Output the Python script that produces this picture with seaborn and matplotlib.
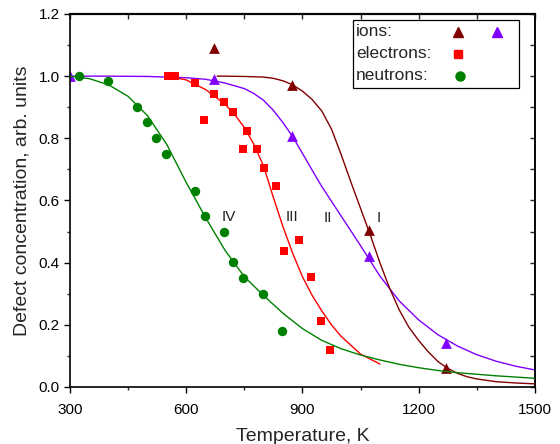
import numpy as np
import pandas as pd
import matplotlib
matplotlib.use("Agg")
import matplotlib.pyplot as plt
import seaborn as sns
from matplotlib.patches import Rectangle
from matplotlib.ticker import MultipleLocator

# ---- measured points ----
ionsI_T = [672, 873, 1072, 1270]
ionsI_y = [1.09, 0.973, 0.505, 0.06]
ionsII_T = [300, 672, 874, 1072, 1270]
ionsII_y = [1.00, 0.99, 0.808, 0.422, 0.142]
elec_T = [553, 571, 623, 647, 672, 697, 721, 746, 757, 782, 802, 832, 852, 892, 922, 947, 972]
elec_y = [1.00, 1.00, 0.977, 0.86, 0.942, 0.917, 0.884, 0.766, 0.825, 0.766, 0.706, 0.648, 0.436, 0.472, 0.355, 0.212, 0.118]
neut_T = [324, 399, 472, 498, 523, 548, 623, 648, 697, 722, 747, 797, 847]
neut_y = [1.00, 0.984, 0.902, 0.853, 0.80, 0.751, 0.632, 0.551, 0.50, 0.401, 0.35, 0.30, 0.18]

# ---- fitted curves ----
fitI_T = [680, 700, 750, 800, 825, 850, 875, 900, 925, 950, 975, 1000, 1025, 1050, 1075, 1100, 1125,
          1150, 1175, 1200, 1225, 1250, 1275, 1300, 1325, 1350, 1400, 1450, 1500]
fitI_y = [1.0, 1.0, 0.999, 0.997, 0.993, 0.985, 0.972, 0.952, 0.925, 0.888, 0.83, 0.748, 0.66, 0.575, 0.49,
          0.40, 0.318, 0.248, 0.192, 0.15, 0.113, 0.082, 0.06, 0.044, 0.033, 0.026, 0.017, 0.013, 0.01]
fitII_T = [300, 400, 500, 600, 650, 700, 750, 775, 800, 825, 850, 875, 900, 925, 950, 1000, 1050, 1100,
           1150, 1200, 1250, 1300, 1350, 1400, 1450, 1500]
fitII_y = [1.0, 1.0, 0.999, 0.995, 0.99, 0.978, 0.96, 0.944, 0.922, 0.89, 0.85, 0.805, 0.752, 0.698,
           0.645, 0.55, 0.455, 0.357, 0.277, 0.216, 0.168, 0.132, 0.104, 0.083, 0.067, 0.055]
fitIII_T = [550, 600, 650, 700, 725, 750, 775, 800, 825, 850, 875, 900, 925, 950, 975,
            1000, 1050, 1100]
fitIII_y = [1.0, 0.988, 0.957, 0.91, 0.877, 0.835, 0.78, 0.71, 0.61, 0.515, 0.43, 0.355, 0.295,
            0.245, 0.2, 0.163, 0.106, 0.074]
fitIV_T = [300, 350, 400, 450, 500, 550, 600, 650, 700, 750, 800, 850, 900, 950, 1000,
           1050, 1100, 1150, 1200, 1250, 1300, 1400, 1500]
fitIV_y = [1.0, 0.992, 0.972, 0.935, 0.873, 0.78, 0.658, 0.545, 0.44, 0.355, 0.294, 0.237, 0.188, 0.15, 0.123,
           0.103, 0.087, 0.073, 0.062, 0.053, 0.046, 0.036, 0.028]

curve_labels = ["I", "II", "III", "IV"]
legend_labels = ["ions:", "electrons:", "neutrons:"]

MAROON = "#800000"
VIOLET = "#8000ff"
RED = "#ff0000"
GREEN = "#008000"

sns.set_theme(style="ticks")
plt.rcParams['font.family'] = ['Liberation Sans', 'DejaVu Sans']

fig, ax = plt.subplots(figsize=(5.6, 4.44), dpi=100)
fig.subplots_adjust(left=0.125, right=0.955, bottom=0.1284, top=0.9685)

# lines
sns.lineplot(x=fitII_T, y=fitII_y, color=VIOLET, lw=1.0, ax=ax, sort=False, estimator=None, zorder=1.5)
sns.lineplot(x=fitI_T, y=fitI_y, color=MAROON, lw=1.0, ax=ax, sort=False, estimator=None, zorder=3)
sns.lineplot(x=fitIII_T, y=fitIII_y, color=RED, lw=1.0, ax=ax, sort=False, estimator=None, zorder=3)
sns.lineplot(x=fitIV_T, y=fitIV_y, color=GREEN, lw=1.0, ax=ax, sort=False, estimator=None, zorder=3)

# points
sns.scatterplot(x=ionsI_T, y=ionsI_y, marker='^', s=60, color=MAROON, linewidth=0, ax=ax, zorder=2)
sns.scatterplot(x=ionsII_T, y=ionsII_y, marker='^', s=60, color=VIOLET, linewidth=0, ax=ax, zorder=2)
sns.scatterplot(x=elec_T, y=elec_y, marker='s', s=40, color=RED, linewidth=0, ax=ax, zorder=2)
sns.scatterplot(x=neut_T, y=neut_y, marker='o', s=46, color=GREEN, linewidth=0, ax=ax, zorder=2)

# curve labels
for lab, (tx, ty) in zip(curve_labels, [(1096, 0.545), (967, 0.545), (874, 0.548), (711, 0.548)]):
    ax.text(tx, ty, lab, ha='center', va='center', fontsize=11, color='#222222')

ax.set_xlim(300, 1500)
ax.set_ylim(0, 1.2)
ax.xaxis.set_major_locator(MultipleLocator(300))
ax.xaxis.set_minor_locator(MultipleLocator(150))
ax.yaxis.set_major_locator(MultipleLocator(0.2))
ax.yaxis.set_minor_locator(MultipleLocator(0.1))
ax.tick_params(which='major', direction='out', length=4.5, width=1.0, labelsize=11, pad=3, colors='black')
ax.tick_params(axis='x', which='major', pad=7)
ax.tick_params(which='minor', direction='out', length=2.5, width=1.0)
for sp in ax.spines.values():
    sp.set_linewidth(1.2)
    sp.set_color('black')

secx = ax.secondary_xaxis('top')
secx.set_xticks(np.arange(300, 1501, 150))
secx.tick_params(direction='in', length=3.5, width=1.0, labeltop=False)
secx.spines['top'].set_linewidth(1.6)
secy = ax.secondary_yaxis('right')
secy.set_yticks(np.arange(0, 1.21, 0.1))
secy.tick_params(direction='in', length=3.5, width=1.0, labelright=False)
secy.spines['right'].set_linewidth(1.2)

ax.set_xlabel("Temperature, K", fontsize=14, labelpad=8)
ax.set_ylabel("Defect concentration, arb. units", fontsize=14, labelpad=6)

# legend box (manual, to keep left-aligned labels with markers after them)
ax.add_patch(Rectangle((0.609, 0.801), 0.357, 0.183, transform=ax.transAxes,
                       fc='white', ec='black', lw=0.9, zorder=5, clip_on=False))
rows = [0.9525, 0.893, 0.834]
for lab, yy in zip(legend_labels, rows):
    ax.text(0.615, yy, lab, transform=ax.transAxes, ha='left', va='center', fontsize=12.5, zorder=6)
ax.plot([0.834], [rows[0]], marker='^', ms=7.5, color=MAROON, lw=0, transform=ax.transAxes, zorder=6, clip_on=False)
ax.plot([0.919], [rows[0]], marker='^', ms=7.5, color=VIOLET, lw=0, transform=ax.transAxes, zorder=6, clip_on=False)
ax.plot([0.834], [rows[1]], marker='s', ms=6.0, color=RED, lw=0, transform=ax.transAxes, zorder=6, clip_on=False)
ax.plot([0.839], [rows[2]], marker='o', ms=6.5, color=GREEN, lw=0, transform=ax.transAxes, zorder=6, clip_on=False)

fig.savefig("out.png", dpi=100)
